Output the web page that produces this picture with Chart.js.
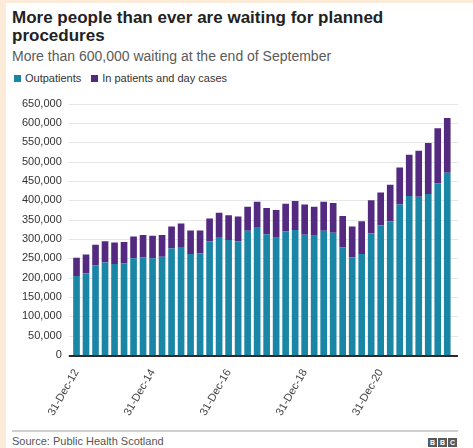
<!DOCTYPE html>
<html>
<head>
<meta charset="utf-8">
<script src="https://cdn.jsdelivr.net/npm/chart.js@4.4.1/dist/chart.umd.min.js"></script>
<style>
    html, body { margin: 0; padding: 0; }
    body {
        width: 473px; height: 448px; position: relative; overflow: hidden;
        background: #fcebd9;
        font-family: "Liberation Sans", Arial, Helvetica, sans-serif;
    }
    #tarjeta { position: absolute; left: 6px; top: 3px; right: 0; bottom: 0; background: #fff; }
    #titulo {
        position: absolute; left: 12px; top: 9px;
        font-size: 17px; font-weight: bold; line-height: 18px; color: #222;
    }
    #subtitulo {
        position: absolute; left: 12px; top: 48px;
        font-size: 14px; line-height: 16px; color: #5a5a5a;
    }
    #leyenda {
        position: absolute; left: 14px; top: 72px;
        display: flex; align-items: center; font-size: 11px; line-height: 12px; color: #333;
    }
    #leyenda span.caja { display: inline-block; width: 7px; height: 7px; margin-right: 4px; }
    #leyenda span.item { display: flex; align-items: center; margin-right: 10px; }
    #grafica { position: absolute; left: 0; top: 87px; }
    #separador { position: absolute; left: 12px; top: 430px; width: 446px; height: 2px; background: #cfcfcf; }
    #fuente {
        position: absolute; left: 12px; top: 435px;
        font-size: 11px; line-height: 12px; color: #555;
    }
    #logo { position: absolute; left: 428px; top: 438px; display: flex; }
    #logo span {
        display: inline-block; width: 9px; height: 9px; margin-right: 1px;
        background: #5a5a5a; color: #fff; font-size: 7px; font-weight: bold;
        line-height: 9px; text-align: center;
    }
</style>
</head>
<body>
<div id="tarjeta"></div>
<div id="titulo">More people than ever are waiting for planned<br>procedures</div>
<div id="subtitulo">More than 600,000 waiting at the end of September</div>
<div id="leyenda"></div>
<canvas id="grafica" width="473" height="335"></canvas>
<div id="separador"></div>
<div id="fuente">Source: Public Health Scotland</div>
<div id="logo"><span>B</span><span>B</span><span>C</span></div>

<script>
"use strict";
/* Datos: fin de cada trimestre */
const fechas = [
    "31-Dec-12", "31-Mar-13", "30-Jun-13", "30-Sep-13",
    "31-Dec-13", "31-Mar-14", "30-Jun-14", "30-Sep-14",
    "31-Dec-14", "31-Mar-15", "30-Jun-15", "30-Sep-15",
    "31-Dec-15", "31-Mar-16", "30-Jun-16", "30-Sep-16",
    "31-Dec-16", "31-Mar-17", "30-Jun-17", "30-Sep-17",
    "31-Dec-17", "31-Mar-18", "30-Jun-18", "30-Sep-18",
    "31-Dec-18", "31-Mar-19", "30-Jun-19", "30-Sep-19",
    "31-Dec-19", "31-Mar-20", "30-Jun-20", "30-Sep-20",
    "31-Dec-20", "31-Mar-21", "30-Jun-21", "30-Sep-21",
    "31-Dec-21", "31-Mar-22", "30-Jun-22", "30-Sep-22"
];

/* Pacientes ambulatorios */
const ambulatorios = [
    204000, 211000, 231000, 239000, 235000, 237000, 250000, 252000,
    250000, 254000, 275000, 279000, 261000, 262000, 294000, 305000,
    297000, 294000, 321000, 331000, 312000, 303000, 319000, 323000,
    311000, 308000, 321000, 316000, 278000, 252000, 261000, 315000,
    335000, 346000, 389000, 411000, 409000, 416000, 444000, 471000
];

/* Hospitalizados y casos de día */
const hospitalizados = [
    47000, 49000, 54000, 55000, 56000, 55000, 56000, 58000,
    58000, 56000, 57000, 61000, 61000, 60000, 59000, 63000,
    64000, 64000, 62000, 65000, 68000, 72000, 72000, 75000,
    78000, 75000, 75000, 77000, 81000, 80000, 85000, 85000,
    85000, 94000, 96000, 107000, 119000, 132000, 142000, 142000
];

const valoresEjeY = [0, 50000, 100000, 150000, 200000, 250000, 300000,
    350000, 400000, 450000, 500000, 550000, 600000, 650000];

const nombresSeries = ["Outpatients", "In patients and day cases"];
const colores = ["#1a86a6", "#532a80"];

/* Leyenda */
function cargarLeyenda() {
    const leyenda = document.getElementById("leyenda");
    nombresSeries.forEach((nombre, i) => {
        leyenda.innerHTML += `
            <span class="item"><span class="caja" style="background:${colores[i]}"></span>${nombre}</span>
        `;
    });
}

/* Líneas de guía y línea base */
const lineasGuia = {
    id: "lineasGuia",
    beforeDatasetsDraw(chart) {
        const { ctx, chartArea, scales } = chart;
        ctx.save();
        ctx.strokeStyle = "#e6e6e6";
        ctx.lineWidth = 1;
        scales.y.ticks.forEach(t => {
            if (t.value === 0) return;
            const y = Math.round(scales.y.getPixelForValue(t.value)) + 0.5;
            ctx.beginPath();
            ctx.moveTo(chartArea.left - 3, y);
            ctx.lineTo(chartArea.right + 6, y);
            ctx.stroke();
        });
        ctx.restore();
    },
    afterDatasetsDraw(chart) {
        const { ctx, chartArea, scales } = chart;
        const y = Math.round(scales.y.getPixelForValue(0)) + 1;
        ctx.save();
        ctx.strokeStyle = "#2b2b2b";
        ctx.lineWidth = 2;
        ctx.beginPath();
        ctx.moveTo(chartArea.left - 3, y);
        ctx.lineTo(chartArea.right + 6, y);
        ctx.stroke();
        ctx.restore();
    }
};

function inicializarGrafica() {
    const canvas = document.getElementById("grafica");

    new Chart(canvas, {
        type: "bar",
        data: {
            labels: fechas,
            datasets: [
                { label: nombresSeries[0], data: ambulatorios, backgroundColor: colores[0] },
                { label: nombresSeries[1], data: hospitalizados, backgroundColor: colores[1] }
            ]
        },
        options: {
            responsive: false,
            animation: false,
            devicePixelRatio: 1,
            datasets: { bar: { barPercentage: 0.7, categoryPercentage: 1 } },
            layout: { padding: { left: 12, right: 21, top: 0, bottom: 0 } },
            plugins: { legend: { display: false }, tooltip: { enabled: false } },
            scales: {
                x: {
                    stacked: true,
                    grid: { display: false },
                    border: { display: false },
                    afterFit: eje => {
                        eje.paddingLeft = 0;
                        eje.paddingRight = 0;
                    },
                    ticks: {
                        autoSkip: false,
                        minRotation: 60,
                        maxRotation: 60,
                        padding: 4,
                        color: "#444",
                        font: { family: "'Liberation Sans', Arial", size: 11 },
                        callback: (valor, indice) => indice % 8 === 0 ? fechas[indice] : ""
                    }
                },
                y: {
                    stacked: true,
                    min: 0,
                    max: 650000,
                    grid: { display: false, drawTicks: false, tickLength: 0 },
                    border: { display: false },
                    afterBuildTicks: eje => {
                        eje.ticks = valoresEjeY.map(v => ({ value: v }));
                    },
                    ticks: {
                        padding: 10,
                        color: "#333",
                        font: { family: "'Liberation Sans', Arial", size: 11 },
                        callback: valor => valor.toLocaleString("en-GB")
                    }
                }
            }
        },
        plugins: [lineasGuia]
    });
}

document.addEventListener("DOMContentLoaded", () => {
    cargarLeyenda();
    inicializarGrafica();
});
</script>
</body>
</html>
